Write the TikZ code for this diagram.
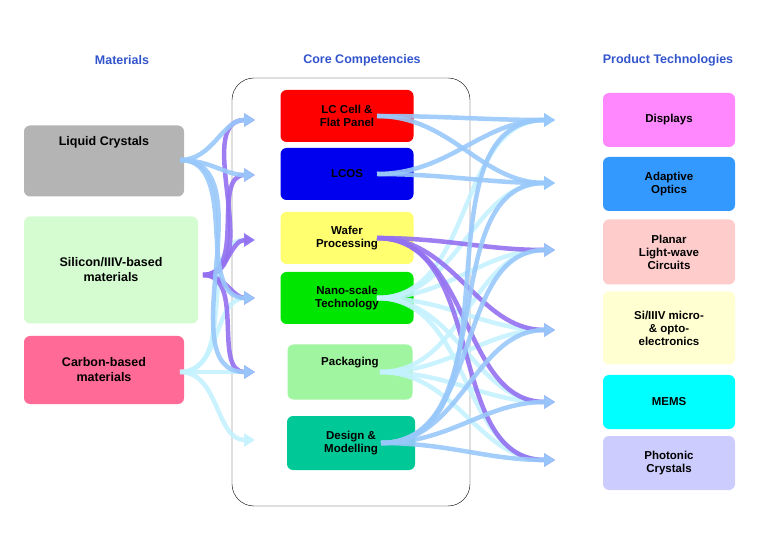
\documentclass[tikz,border=0pt]{standalone}
\usepackage{fontspec}
\setmainfont{Liberation Sans}
\usetikzlibrary{positioning,arrows.meta}
\begin{document}
\begin{tikzpicture}[x=1pt,y=-1pt]

      \definecolor{headblue}{HTML}{3355CC}
      \definecolor{lcgray}{HTML}{B4B4B4}
      \definecolor{sigreen}{HTML}{D4FCD0}
      \definecolor{cbpink}{HTML}{FF6A96}
      \definecolor{lcred}{HTML}{FF0000}
      \definecolor{lcosblue}{HTML}{0000EE}
      \definecolor{waferyellow}{HTML}{FFFF70}
      \definecolor{nanogreen}{HTML}{00E600}
      \definecolor{packgreen}{HTML}{A0F5A0}
      \definecolor{designteal}{HTML}{00C896}
      \definecolor{displaymag}{HTML}{FF88FF}
      \definecolor{adaptblue}{HTML}{3399FF}
      \definecolor{planarpink}{HTML}{FFCCCC}
      \definecolor{siyellow}{HTML}{FFFFD2}
      \definecolor{memscyan}{HTML}{00FFFF}
      \definecolor{photlav}{HTML}{CCCCFF}
      \definecolor{arrblue}{HTML}{99C8FA}
      \definecolor{arrpurple}{HTML}{9370F0}
      \definecolor{arrcyan}{HTML}{C4F2FF}

      \tikzset{
        head/.style     = {text=headblue, font=\fontsize{12.5}{14}\selectfont\bfseries},
        box/.style      = {rectangle, rounded corners=6pt, align=center, font=\fontsize{11.5}{13}\selectfont\bfseries},
        matbox/.style   = {box, minimum width=160pt, font=\fontsize{12.5}{15}\selectfont\bfseries},
        corebox/.style  = {box, minimum width=133pt, minimum height=52pt},
        prodbox/.style  = {box, minimum width=132pt, minimum height=54pt},
        flow/.style     = {line width=4.5pt, -{Triangle[width=13pt,length=11pt]}, opacity=0.9}
      }

      \useasboundingbox (0,0) rectangle (780,540);

      % headings
      \node [head] (mathead)  at (122,60) {Materials};
      \node [head] (corehead) at (362,60) {Core Competencies};
      \node [head] (prodhead) at (668,60) {Product Technologies};

      % materials
      \node [matbox, fill=lcgray,  minimum height=71pt,  text depth=40pt] (lc)  at (104,161) {Liquid Crystals};
      \node [matbox, fill=sigreen, minimum width=174pt, minimum height=107pt] (si) at (111,270) {Silicon/IIIV-based\\materials};
      \node [matbox, fill=cbpink,  minimum height=68pt] (cb)  at (104,370) {Carbon-based\\materials};

      % core competencies
      \draw [rounded corners=22pt] (232,78) rectangle (470,506);
      \node [corebox, fill=lcred]      (lccell)  at (347,116) {LC Cell \&\\Flat Panel};
      \node [corebox, fill=lcosblue]   (lcos)    at (347,174) {LCOS};
      \node [corebox, fill=waferyellow](wafer)   at (347,238) {Wafer\\Processing};
      \node [corebox, fill=nanogreen]  (nano)    at (347,298) {Nano-scale\\Technology};
      \node [corebox, fill=packgreen, minimum width=125pt, minimum height=55pt, text depth=22pt] (pack) at (350,372) {Packaging};
      \node [corebox, fill=designteal, minimum width=128pt, minimum height=54pt] (design) at (351,443) {Design \&\\Modelling};

      % product technologies
      \node [prodbox, fill=displaymag] (disp)   at (669,120) {Displays};
      \node [prodbox, fill=adaptblue]  (adapt)  at (669,184) {Adaptive\\Optics};
      \node [prodbox, fill=planarpink, minimum height=65pt] (planar) at (669,252) {Planar\\Light-wave\\Circuits};
      \node [prodbox, fill=siyellow, minimum height=73pt]   (siiv)   at (669,328) {Si/IIIV micro-\\\& opto-\\electronics};
      \node [prodbox, fill=memscyan]   (mems)   at (669,402) {MEMS};
      \node [prodbox, fill=photlav]    (phot)   at (669,463) {Photonic\\Crystals};

      % arrow ends
      \foreach \n/\y in {1/120,2/175,3/240,4/298,5/372,6/440} \coordinate (cin\n) at (255,\y);
      \foreach \n/\y in {1/120,2/183,3/250,4/330,5/402,6/460} \coordinate (pin\n) at (555,\y);
      \coordinate (lcout) at (180,160);
      \coordinate (siout) at (203,275);
      \coordinate (cbout) at (180,372);

      % materials to competencies
      \foreach \n in {3,4,5,6} \draw [flow, arrcyan]   (cbout) to [out=0, in=180] (cin\n);
      \foreach \n in {1,2,3,4,5} \draw [flow, arrpurple] (siout) to [out=0, in=180] (cin\n);
      \foreach \n in {1,2,4,5} \draw [flow, arrblue]   (lcout) to [out=0, in=180] (cin\n);

      % competencies to products
      \foreach \n in {1,2,3,4,5,6} \draw [flow, arrcyan] (nano.center) ++(30,0) to [out=0, in=180] (pin\n);
      \foreach \n in {3,4,5,6} \draw [flow, arrcyan] (pack.center) ++(30,0) to [out=0, in=180] (pin\n);
      \foreach \n in {3,4,5,6} \draw [flow, arrpurple] (wafer.center) ++(30,0) to [out=0, in=180] (pin\n);
      \foreach \n in {1,2} \draw [flow, arrblue] (lccell.center) ++(30,0) to [out=0, in=180] (pin\n);
      \foreach \n in {1,2} \draw [flow, arrblue] (lcos.center) ++(30,0) to [out=0, in=180] (pin\n);
      \foreach \n in {1,2,3,4,5,6} \draw [flow, arrblue] (design.center) ++(30,0) to [out=0, in=180] (pin\n);

\end{tikzpicture}
\end{document}
